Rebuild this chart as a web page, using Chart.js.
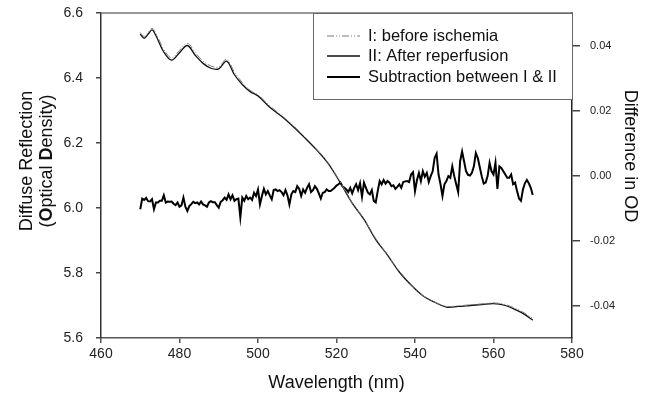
<!DOCTYPE html>
<html>
<head>
<meta charset="utf-8">
<script src="https://cdn.jsdelivr.net/npm/chart.js@4.4.0/dist/chart.umd.min.js"></script>
<style>
  html, body { margin: 0; padding: 0; background: #fff; }
  canvas { display: block; }
</style>
</head>
<body>
<canvas id="spectrumChart" width="654" height="399"></canvas>
<script>
// wavelengths (nm) where the two OD spectra were read
const odWavelengths = [470, 471, 472, 473, 474, 476, 478, 480, 482, 484, 486, 488, 490, 492, 494, 496, 498, 500, 503, 506, 509, 512, 515, 518, 521, 524, 527, 530, 533, 536, 539, 542, 545, 548, 551, 554, 557, 560, 563, 566, 568, 570];

// I: before ischemia (left axis, optical density)
const beforeIschemia = [6.540, 6.528, 6.540, 6.553, 6.537, 6.488, 6.462, 6.485, 6.507, 6.478, 6.452, 6.437, 6.434, 6.458, 6.418, 6.386, 6.362, 6.348, 6.314, 6.285, 6.253, 6.218, 6.180, 6.137, 6.079, 6.016, 5.966, 5.906, 5.856, 5.806, 5.764, 5.731, 5.711, 5.697, 5.699, 5.702, 5.705, 5.708, 5.703, 5.689, 5.676, 5.660];

// II: after reperfusion (left axis)
const afterReperfusion = [6.535, 6.522, 6.535, 6.548, 6.530, 6.480, 6.455, 6.478, 6.500, 6.470, 6.445, 6.430, 6.428, 6.452, 6.410, 6.380, 6.358, 6.345, 6.310, 6.282, 6.250, 6.215, 6.178, 6.135, 6.077, 6.015, 5.965, 5.903, 5.855, 5.803, 5.763, 5.730, 5.710, 5.695, 5.697, 5.700, 5.703, 5.706, 5.700, 5.685, 5.672, 5.655];

// subtraction I - II (right axis), sampled every 0.5 nm from 470 nm
const diffStart = 470;
const diffStep = 0.5;
const subtraction = [
  -0.0104, -0.0071, -0.0075, -0.0069, -0.0079, -0.0080, -0.0073, -0.0104, -0.0083, -0.0083,
  -0.0078, -0.0078, -0.0061, -0.0083, -0.0080, -0.0081, -0.0080, -0.0087, -0.0091, -0.0083,
  -0.0096, -0.0092, -0.0068, -0.0096, -0.0109, -0.0094, -0.0088, -0.0081, -0.0085, -0.0083,
  -0.0089, -0.0080, -0.0089, -0.0092, -0.0096, -0.0083, -0.0079, -0.0082, -0.0082, -0.0091,
  -0.0099, -0.0081, -0.0076, -0.0068, -0.0075, -0.0058, -0.0073, -0.0061, -0.0078, -0.0073,
  -0.0071, -0.0129, -0.0068, -0.0078, -0.0063, -0.0073, -0.0068, -0.0075, -0.0053, -0.0063,
  -0.0043, -0.0089, -0.0063, -0.0041, -0.0058, -0.0048, -0.0061, -0.0073, -0.0045, -0.0043,
  -0.0048, -0.0045, -0.0051, -0.0061, -0.0045, -0.0061, -0.0089, -0.0058, -0.0048, -0.0051,
  -0.0033, -0.0041, -0.0063, -0.0043, -0.0053, -0.0038, -0.0027, -0.0051, -0.0045, -0.0033,
  -0.0041, -0.0055, -0.0071, -0.0053, -0.0051, -0.0043, -0.0048, -0.0048, -0.0043, -0.0038,
  -0.0031, -0.0027, -0.0022, -0.0033, -0.0038, -0.0043, -0.0051, -0.0038, -0.0055, -0.0038,
  -0.0027, -0.0045, -0.0024, -0.0065, -0.0022, -0.0038, -0.0053, -0.0058, -0.0045, -0.0078,
  -0.0083, -0.0048, -0.0017, -0.0027, -0.0014, -0.0025, -0.0017, -0.0022, -0.0033, -0.0030,
  -0.0041, -0.0035, -0.0027, -0.0038, -0.0020, -0.0018, -0.0017, -0.0020, 0.0003, 0.0010,
  -0.0048, -0.0014, 0.0008, -0.0017, 0.0013, -0.0004, 0.0008, -0.0020, -0.0002, 0.0013,
  0.0054, 0.0067, 0.0003, -0.0027, -0.0063, -0.0027, -0.0017, -0.0002, -0.0007, 0.0028,
  -0.0002, -0.0027, -0.0051, 0.0044, 0.0074, 0.0044, 0.0013, 0.0002, 0.0000, 0.0008,
  0.0028, 0.0069, 0.0054, 0.0026, -0.0002, -0.0025, -0.0022, -0.0002, 0.0039, 0.0013,
  0.0003, 0.0039, -0.0041, 0.0028, 0.0023, 0.0013, 0.0003, -0.0007, -0.0007, 0.0003,
  -0.0027, -0.0022, -0.0048, -0.0071, -0.0078, -0.0043, -0.0024, -0.0014, -0.0024, -0.0038,
  -0.0060
];

const xTicks = [460, 480, 500, 520, 540, 560, 580];
const leftTicks = [5.6, 5.8, 6.0, 6.2, 6.4, 6.6];
const rightTicks = [-0.04, -0.02, 0.0, 0.02, 0.04];

const seriesLabels = ["I: before ischemia", "II: After reperfusion", "Subtraction between I & II"];

const fontFamily = "'Liberation Sans', Arial, sans-serif";

const beforePoints = odWavelengths.map((w, i) => ({ x: w, y: beforeIschemia[i] }));
const afterPoints = odWavelengths.map((w, i) => ({ x: w, y: afterReperfusion[i] }));
const diffPoints = subtraction.map((v, i) => ({ x: diffStart + i * diffStep, y: v }));

// legend box + axis titles drawn by hand (mixed bold text, boxed legend)
const decorPlugin = {
  id: "decor",
  afterDraw(chart) {
    const ctx = chart.ctx;
    const area = chart.chartArea;
    ctx.save();

    // top frame line
    ctx.strokeStyle = "#777";
    ctx.lineWidth = 1.5;
    ctx.beginPath();
    ctx.moveTo(area.left, area.top);
    ctx.lineTo(area.right, area.top);
    ctx.stroke();

    // legend box
    const lx = 313, ly = area.top, lw = area.right - 313, lh = 86;
    ctx.fillStyle = "#fff";
    ctx.fillRect(lx, ly, lw, lh);
    ctx.strokeStyle = "#666";
    ctx.lineWidth = 1;
    ctx.strokeRect(lx + 0.5, ly + 0.5, lw, lh);

    const rows = [36, 56, 77];
    chart.data.datasets.forEach((ds, i) => {
      const y = rows[i];
      ctx.strokeStyle = ds.borderColor;
      ctx.lineWidth = ds.borderWidth;
      ctx.setLineDash(ds.borderDash || []);
      ctx.beginPath();
      ctx.moveTo(327, y);
      ctx.lineTo(360, y);
      ctx.stroke();
      ctx.setLineDash([]);
      ctx.fillStyle = "#111";
      ctx.font = "16.5px " + fontFamily;
      ctx.textBaseline = "middle";
      ctx.textAlign = "left";
      ctx.fillText(ds.label, 368, y);
    });

    // x title
    ctx.fillStyle = "#111";
    ctx.font = "18px " + fontFamily;
    ctx.textAlign = "center";
    ctx.textBaseline = "middle";
    ctx.fillText("Wavelength (nm)", (area.left + area.right) / 2, 383);

    // left title, two lines, bold O and D
    ctx.save();
    ctx.translate(27, 161);
    ctx.rotate(-Math.PI / 2);
    ctx.fillText("Diffuse Reflection", 0, 0);
    const parts = [["(", false], ["O", true], ["ptical ", false], ["D", true], ["ensity)", false]];
    let total = 0;
    parts.forEach(p => {
      ctx.font = (p[1] ? "bold " : "") + "18px " + fontFamily;
      total += ctx.measureText(p[0]).width;
    });
    let px = -total / 2;
    ctx.textAlign = "left";
    parts.forEach(p => {
      ctx.font = (p[1] ? "bold " : "") + "18px " + fontFamily;
      ctx.fillText(p[0], px, 20);
      px += ctx.measureText(p[0]).width;
    });
    ctx.restore();

    // right title
    ctx.save();
    ctx.translate(630, 156);
    ctx.rotate(Math.PI / 2);
    ctx.font = "18px " + fontFamily;
    ctx.textAlign = "center";
    ctx.textBaseline = "middle";
    ctx.fillText("Difference in OD", 0, 0);
    ctx.restore();

    ctx.restore();
  }
};

// fixed axis sizes so the plot area sits where the original one does
function fixWidth(w) {
  return (scale) => {
    scale.width = w;
    scale.paddingTop = 0;
    scale.paddingBottom = 0;
  };
}

new Chart(document.getElementById("spectrumChart"), {
  type: "line",
  data: {
    datasets: [
      {
        label: seriesLabels[0],
        data: beforePoints,
        yAxisID: "y",
        borderColor: "#7a7a7a",
        borderWidth: 1,
        borderDash: [7, 2, 1, 2, 1, 2],
        pointRadius: 0,
        tension: 0.35,
        fill: false
      },
      {
        label: seriesLabels[1],
        data: afterPoints,
        yAxisID: "y",
        borderColor: "#111",
        borderWidth: 1.3,
        pointRadius: 0,
        tension: 0.35,
        fill: false
      },
      {
        label: seriesLabels[2],
        data: diffPoints,
        yAxisID: "y2",
        borderColor: "#000",
        borderWidth: 2,
        pointRadius: 0,
        tension: 0,
        fill: false
      }
    ]
  },
  options: {
    responsive: false,
    animation: false,
    devicePixelRatio: 1,
    layout: { padding: { top: 13, left: 0, right: 0, bottom: 0 } },
    plugins: {
      legend: { display: false },
      tooltip: { enabled: false }
    },
    scales: {
      x: {
        type: "linear",
        position: "bottom",
        min: 460,
        max: 580,
        afterBuildTicks: (scale) => { scale.ticks = xTicks.map(v => ({ value: v })); },
        afterFit: (scale) => {
          scale.height = 61;
          scale.paddingLeft = 0;
          scale.paddingRight = 0;
        },
        grid: { drawOnChartArea: false, drawTicks: true, tickLength: 5, color: "#555", lineWidth: 1.5 },
        border: { display: true, color: "#555", width: 1.5 },
        ticks: {
          color: "#222",
          padding: 3,
          maxRotation: 0,
          autoSkip: false,
          font: { family: fontFamily, size: 14 },
          callback: (v) => String(v)
        }
      },
      y: {
        position: "left",
        min: 5.6,
        max: 6.6,
        afterBuildTicks: (scale) => { scale.ticks = leftTicks.map(v => ({ value: v })); },
        afterFit: fixWidth(101),
        grid: { drawOnChartArea: false, drawTicks: true, tickLength: 5, color: "#444", lineWidth: 1.5 },
        border: { display: true, color: "#333", width: 1.5 },
        ticks: {
          color: "#222",
          padding: 13,
          font: { family: fontFamily, size: 14 },
          callback: (v) => Number(v).toFixed(1)
        }
      },
      y2: {
        position: "right",
        min: -0.05,
        max: 0.05,
        afterBuildTicks: (scale) => { scale.ticks = rightTicks.map(v => ({ value: v })); },
        afterFit: fixWidth(82),
        grid: { drawOnChartArea: false, drawTicks: true, tickLength: 8, color: "#444", lineWidth: 1.5 },
        border: { display: true, color: "#222", width: 1.5 },
        ticks: {
          color: "#222",
          padding: 10,
          font: { family: fontFamily, size: 11 },
          callback: (v) => Number(v).toFixed(2)
        }
      }
    }
  },
  plugins: [decorPlugin]
});
</script>
</body>
</html>
